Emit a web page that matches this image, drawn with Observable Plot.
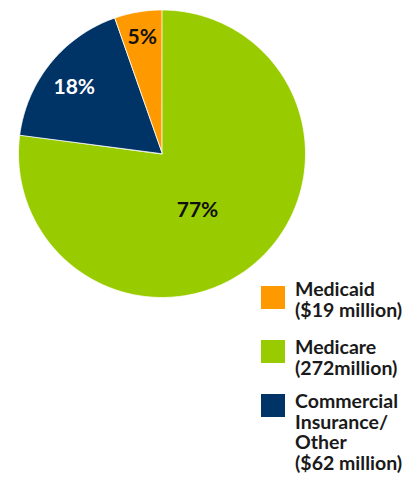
<!DOCTYPE html>
<html>
<head>
<meta charset="utf-8">
<script src="https://cdn.jsdelivr.net/npm/d3@7"></script>
<script src="https://cdn.jsdelivr.net/npm/@observablehq/plot@0.6"></script>
<style>
  html, body { margin: 0; padding: 0; background: #fff; overflow: hidden; }
  #wrap { position: relative; width: 415px; height: 484px; font-family: Lato, "Open Sans", sans-serif; }
  #chart { position: absolute; left: 0; top: 0; }
  .item { position: absolute; left: 261px; display: flex; align-items: flex-start; }
  .sw { width: 24px; height: 23px; flex: none; }
  .txt { margin-left: 10px; font-size: 19.5px; font-weight: bold; line-height: 20.5px; color: #1a1a1a; white-space: nowrap; }
</style>
</head>
<body>
<div id="wrap"><div id="chart"></div></div>
<script>
const categories = ["Medicaid", "Medicare", "Commercial Insurance/ Other"];
const values = [19, 272, 62];
const legendLines = [["Medicaid", "($19 million)"], ["Medicare", "(272million)"], ["Commercial", "Insurance/", "Other", "($62 million)"]];
const colors = ["#FF9900", "#99CC00", "#003366"];

const total = d3.sum(values);
const data = categories.map((c, i) => ({cat: c, value: values[i]}));
const a0 = -2 * Math.PI * values[0] / total;
const arcs = d3.pie().sort(null).value(d => d.value).startAngle(a0).endAngle(a0 + 2 * Math.PI)(data);

// polygon points for each slice (angle measured clockwise from 12 o'clock)
const pts = [];
for (const a of arcs) {
  pts.push({cat: a.data.cat, x: 0, y: 0});
  const n = Math.ceil((a.endAngle - a.startAngle) / (Math.PI / 360));
  for (let k = 0; k <= n; k++) {
    const t = a.startAngle + (a.endAngle - a.startAngle) * k / n;
    pts.push({cat: a.data.cat, x: Math.sin(t), y: Math.cos(t)});
  }
}

// label placement (style)
const labelStyle = {
  "Medicaid": {r: 0.82, fill: "#111", dx: 0, dy: 0},
  "Medicare": {r: 0.47, fill: "#111", dx: -9, dy: 6},
  "Commercial Insurance/ Other": {r: 0.76, fill: "#fff", dx: -3, dy: 2}
};
const labels = arcs.map(a => {
  const s = labelStyle[a.data.cat];
  const m = (a.startAngle + a.endAngle) / 2;
  return {cat: a.data.cat, x: s.r * Math.sin(m), y: s.r * Math.cos(m), text: Math.round(a.data.value / total * 100) + "%", fill: s.fill, dx: s.dx, dy: s.dy};
});

const textMarks = labels.map(l => Plot.text([l], {x: "x", y: "y", text: "text", fill: l.fill, dx: l.dx, dy: l.dy, fontSize: 21, fontWeight: "bold"}));

const chart = Plot.plot({
  width: 415, height: 310,
  marginLeft: 18, marginRight: 110, marginTop: 9.5, marginBottom: 13,
  x: {domain: [-1, 1], axis: null},
  y: {domain: [-1, 1], axis: null},
  color: {domain: categories, range: colors},
  style: {fontFamily: "Lato, 'Open Sans', sans-serif", background: "transparent"},
  marks: [
    Plot.line(pts, {x: "x", y: "y", z: "cat", fill: "cat", stroke: "white", strokeWidth: 0.8, curve: "linear-closed"}),
    ...textMarks
  ]
});
document.getElementById("chart").appendChild(chart);

const tops = [279, 337, 391];
const swTops = [286, 340, 394];
const wrap = document.getElementById("wrap");
categories.forEach((c, i) => {
  const item = document.createElement("div");
  item.className = "item";
  item.style.top = tops[i] + "px";
  const sw = document.createElement("div");
  sw.className = "sw";
  sw.style.background = colors[i];
  sw.style.marginTop = (swTops[i] - tops[i]) + "px";
  const txt = document.createElement("div");
  txt.className = "txt";
  txt.innerHTML = legendLines[i].join("<br>");
  item.appendChild(sw);
  item.appendChild(txt);
  wrap.appendChild(item);
});
</script>
</body>
</html>
